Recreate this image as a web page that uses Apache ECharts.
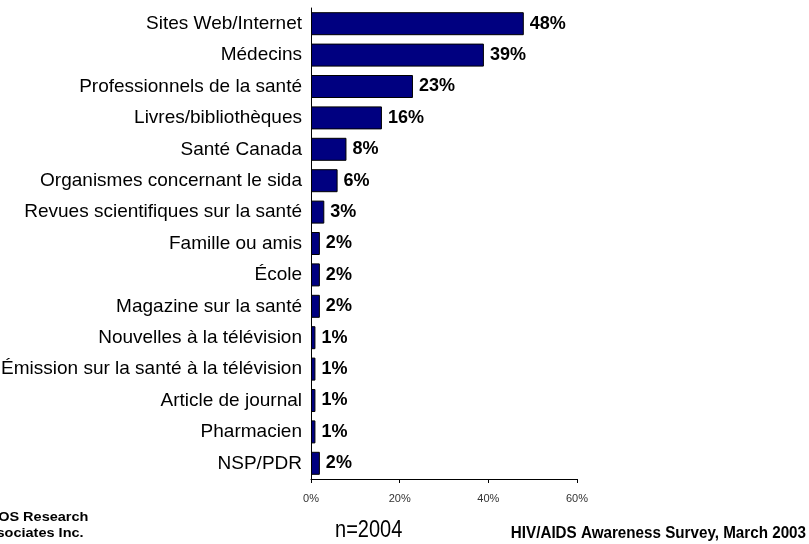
<!DOCTYPE html>
<html>
<head>
<meta charset="utf-8">
<script src="https://cdn.jsdelivr.net/npm/echarts@6/dist/echarts.min.js"></script>
<style>
  html, body { margin: 0; padding: 0; background: #fff; }
  #chart { width: 809px; height: 544px; }
</style>
</head>
<body>
<div id="chart"></div>
<script>
  // categories top to bottom, values in percent
  var categories = [
    'Sites Web/Internet',
    'Médecins',
    'Professionnels de la santé',
    'Livres/bibliothèques',
    'Santé Canada',
    'Organismes concernant le sida',
    'Revues scientifiques sur la santé',
    'Famille ou amis',
    'École',
    'Magazine sur la santé',
    'Nouvelles à la télévision',
    'Émission sur la santé à la télévision',
    'Article de journal',
    'Pharmacien',
    'NSP/PDR'
  ]
  var values = [48, 39, 23, 16, 8, 6, 3, 2, 2, 2, 1, 1, 1, 1, 2]
  var xTicks = [0, 20, 40, 60]

  var chart = echarts.init(document.getElementById('chart'))

  var option = {
    animation: false,
    grid: {
      left: 311,
      right: 232,
      top: 8,
      bottom: 65,
      outerBoundsMode: 'none'
    },
    xAxis: {
      type: 'value',
      min: xTicks[0],
      max: xTicks[xTicks.length - 1],
      interval: xTicks[1] - xTicks[0],
      axisLine: { show: true, lineStyle: { color: '#000', width: 1 } },
      axisTick: { show: true, length: 4, lineStyle: { color: '#000' } },
      splitLine: { show: false },
      axisLabel: {
        formatter: '{value}%',
        fontFamily: 'Liberation Sans',
        fontSize: 11,
        color: '#333',
        margin: 14
      }
    },
    yAxis: {
      type: 'category',
      inverse: true,
      data: categories,
      axisLine: { show: true, lineStyle: { color: '#000', width: 1 } },
      axisTick: { show: false },
      axisLabel: {
        fontFamily: 'Liberation Sans',
        fontSize: 19,
        color: '#000',
        margin: 9
      }
    },
    series: [{
      type: 'bar',
      data: values,
      barWidth: 23,
      itemStyle: {
        color: '#000080',
        borderColor: '#000',
        borderWidth: 1
      },
      label: {
        show: true,
        position: 'right',
        distance: 6,
        formatter: '{c}%',
        fontFamily: 'Liberation Sans',
        fontWeight: 'bold',
        fontSize: 18,
        color: '#000'
      }
    }],
    graphic: [
      {
        type: 'text', x: -22, y: 510, scaleX: 1.16,
        style: { text: 'EKOS Research\nAssociates Inc.', font: 'bold 12.5px "Liberation Sans"', fill: '#000', lineHeight: 16 }
      },
      {
        type: 'text', x: 335, y: 531, scaleX: 0.87,
        style: { text: 'n=2004', font: '23px "Liberation Sans"', fill: '#000', verticalAlign: 'middle' }
      },
      {
        type: 'text', x: 806, y: 534, scaleX: 0.95,
        style: { text: 'HIV/AIDS Awareness Survey, March 2003', font: 'bold 16px "Liberation Sans"', fill: '#000', align: 'right', verticalAlign: 'middle' }
      }
    ]
  }

  chart.setOption(option)
</script>
</body>
</html>
